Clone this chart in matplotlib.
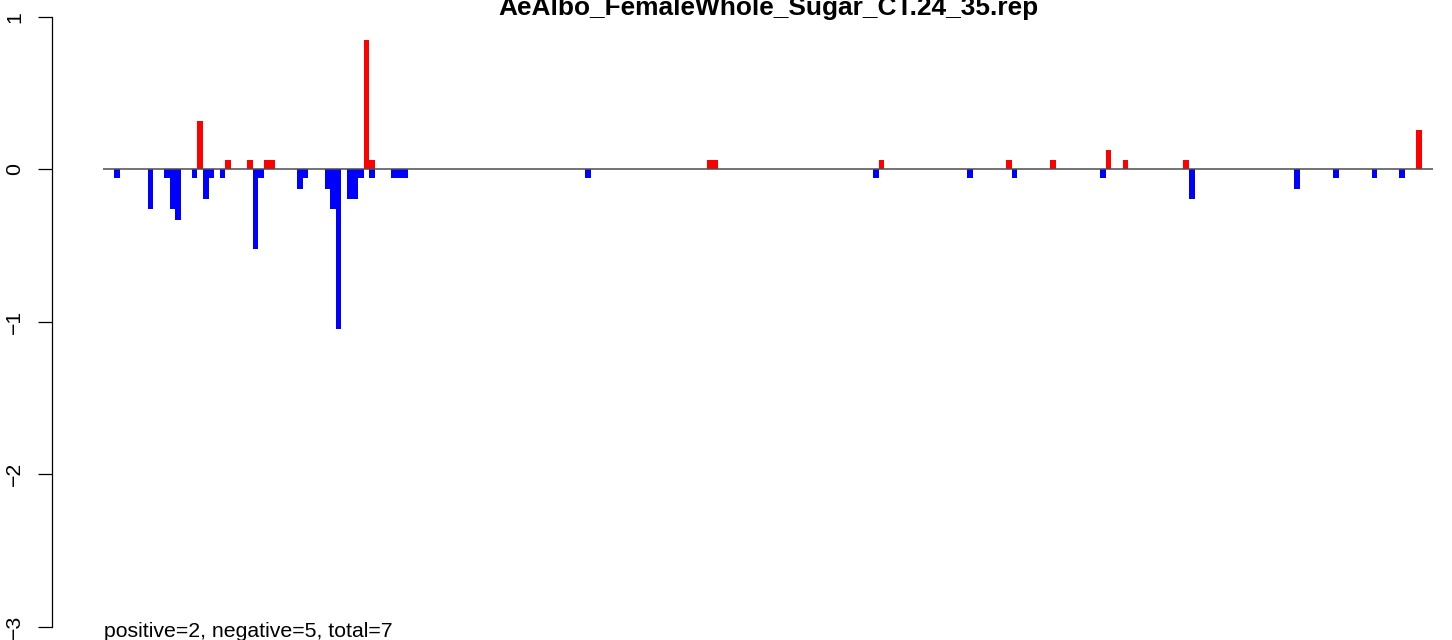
#!/usr/bin/env python3

import matplotlib
matplotlib.use("Agg")
import matplotlib.pyplot as plt

plt.rcParams['font.family'] = ['Liberation Sans', 'DejaVu Sans']

# data (slot index along the x axis, value)
title = "AeAlbo_FemaleWhole_Sugar_CT.24_35.rep"
summary = "positive=2, negative=5, total=7"
n_slots = 240

neg_slots = [2, 8, 11, 12, 13, 16, 18, 19, 21, 27,
             28, 35, 36, 40, 41, 42, 44, 45, 46, 48,
             52, 53, 54, 87, 139, 156, 164, 180, 196, 215,
             222, 229, 234]
neg_vals = [-0.06, -0.26, -0.06, -0.26, -0.33, -0.06, -0.195, -0.06, -0.06, -0.52,
            -0.06, -0.13, -0.06, -0.13, -0.26, -1.05, -0.195, -0.195, -0.06, -0.06,
            -0.06, -0.06, -0.06, -0.06, -0.06, -0.06, -0.06, -0.06, -0.195, -0.13,
            -0.06, -0.06, -0.06]

pos_slots = [17, 22, 26, 29, 30, 47, 48, 109, 110, 140, 163, 171, 181, 184, 195, 237]
pos_vals = [0.32, 0.06, 0.06, 0.06, 0.06, 0.85, 0.06, 0.06, 0.06, 0.06,
            0.06, 0.06, 0.127, 0.06, 0.06, 0.258]

y_ticks = [1, 0, -1, -2, -3]


def main():
    W, H = 1452, 640
    fig = plt.figure(figsize=(W / 100, H / 100), dpi=100)
    ax = fig.add_axes([0, 0, 1, 1])

    # pixel layout of the R plot
    x0_px, x1_px = 103.3, 1432.7
    slot_px = (x1_px - x0_px) / n_slots
    zero_px, unit_px = 169.3, 152.5

    ax.set_xlim(-x0_px / slot_px, (W - x0_px) / slot_px)
    ax.set_ylim(-(H - zero_px) / unit_px, zero_px / unit_px)

    ax.bar(neg_slots, neg_vals, width=1, align='edge', color='#0000ff', linewidth=0)
    ax.bar(pos_slots, pos_vals, width=1, align='edge', color='#ff0000', linewidth=0)
    ax.hlines(0, 0, n_slots, color='#4d4d4d', linewidth=1.1)

    for side in ['top', 'right', 'bottom']:
        ax.spines[side].set_visible(False)
    ax.spines['left'].set_position(('data', (51.7 - x0_px) / slot_px))
    ax.spines['left'].set_bounds(min(y_ticks), max(y_ticks))
    ax.spines['left'].set_linewidth(0.9)
    ax.set_xticks([])
    ax.set_yticks(y_ticks)
    ax.set_yticklabels([str(t).replace('-', '\u2212') for t in y_ticks])
    ax.tick_params(axis='y', length=10, width=0.9, pad=10, labelsize=15.3,
                   labelrotation=90)
    for lab in ax.get_yticklabels():
        lab.set_va('center')

    # title sits partly above the top edge, as in the reference
    fig.text(768 / W, 1 - 15 / H, title, ha='center', va='baseline',
             fontsize=18.9, fontweight='bold')
    fig.text(104 / W, 1 - 637 / H, summary, ha='left', va='baseline',
             fontsize=15.3)

    fig.savefig('out.png', dpi=100)


if __name__ == "__main__":
    main()
